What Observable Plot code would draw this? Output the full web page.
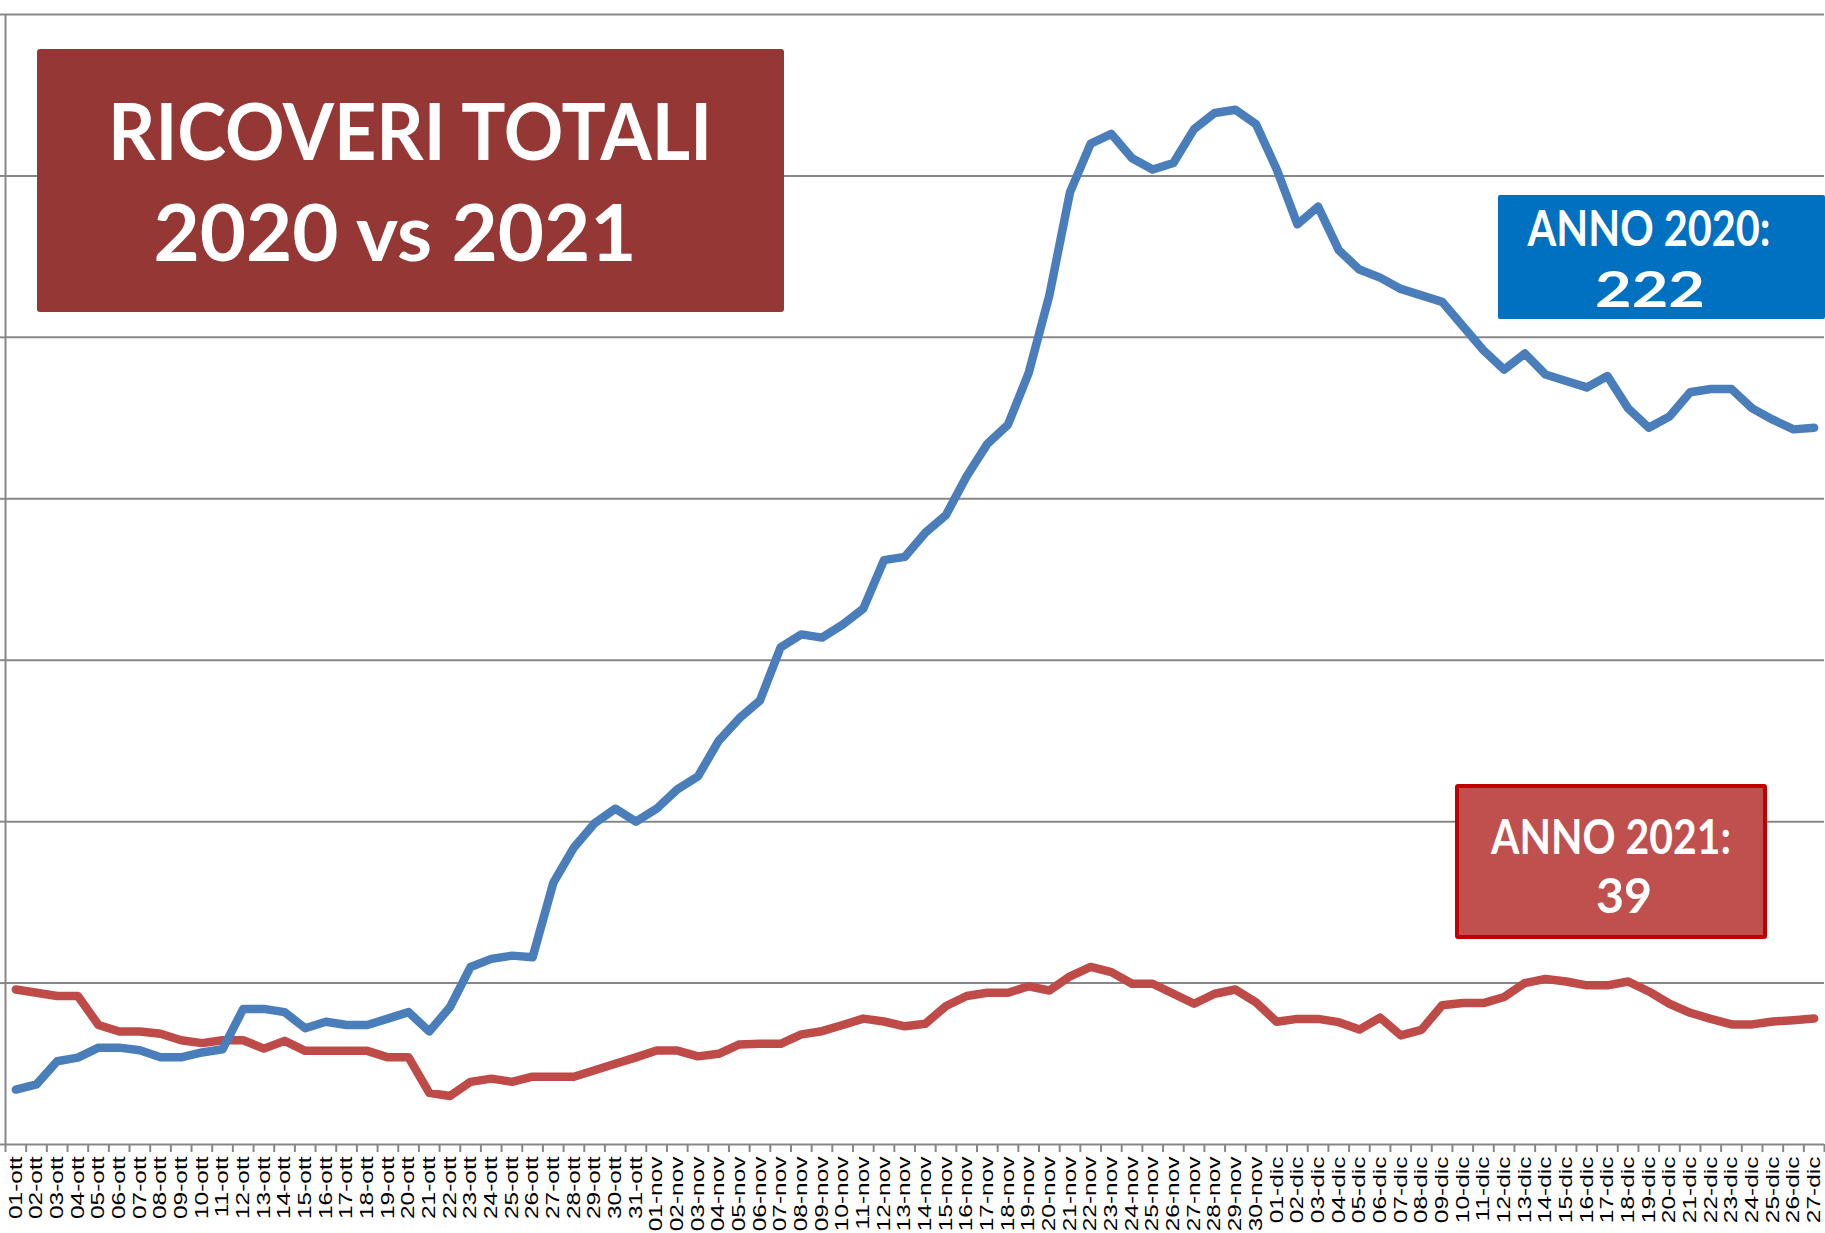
<!DOCTYPE html>
<html>
<head>
<meta charset="utf-8">
<script src="https://cdn.jsdelivr.net/npm/d3@7"></script>
<script src="https://cdn.jsdelivr.net/npm/@observablehq/plot@0.6"></script>
<style>
  html, body { margin: 0; padding: 0; background: #ffffff; }
  #chart { width: 1825px; height: 1233px; overflow: hidden; }
</style>
</head>
<body>
<div id="chart"></div>
<script>
// ---- data ----
const dates = [
  "01-ott","02-ott","03-ott","04-ott","05-ott","06-ott","07-ott","08-ott","09-ott","10-ott",
  "11-ott","12-ott","13-ott","14-ott","15-ott","16-ott","17-ott","18-ott","19-ott","20-ott",
  "21-ott","22-ott","23-ott","24-ott","25-ott","26-ott","27-ott","28-ott","29-ott","30-ott","31-ott",
  "01-nov","02-nov","03-nov","04-nov","05-nov","06-nov","07-nov","08-nov","09-nov","10-nov",
  "11-nov","12-nov","13-nov","14-nov","15-nov","16-nov","17-nov","18-nov","19-nov","20-nov",
  "21-nov","22-nov","23-nov","24-nov","25-nov","26-nov","27-nov","28-nov","29-nov","30-nov",
  "01-dic","02-dic","03-dic","04-dic","05-dic","06-dic","07-dic","08-dic","09-dic","10-dic",
  "11-dic","12-dic","13-dic","14-dic","15-dic","16-dic","17-dic","18-dic","19-dic","20-dic",
  "21-dic","22-dic","23-dic","24-dic","25-dic","26-dic","27-dic"
];
const ricoveri2020 = [
  17, 18.6, 25.8, 26.9, 30, 30, 29.2, 27, 27, 28.5,
  29.5, 42, 42, 41, 36, 38, 37, 37, 39, 41,
  35, 42.5, 55, 57.5, 58.5, 58, 81, 92, 99.5, 104,
  100, 104, 110, 114, 125, 132, 137.5, 154, 158, 157,
  161, 166, 181, 182, 189.5, 195, 207, 217, 223, 239,
  263, 295, 310, 313, 305.5, 302, 304, 314.5, 319.5, 320.5,
  316, 302, 285, 290.5, 277, 271, 268.5, 265, 263, 261,
  253.5, 246, 240, 245, 238.5, 236.5, 234.5, 238, 228, 222,
  225.5, 233, 234, 234, 228, 224.5, 221.5, 222
];
const ricoveri2021 = [
  48, 47, 46, 46, 37, 35, 35, 34.3, 32.3, 31.4,
  32.3, 32.3, 29.7, 32.1, 29, 29, 29, 29, 27, 27,
  16, 15, 19.4, 20.4, 19.4, 21, 21, 21, 23, 25,
  27, 29.1, 29.1, 27.3, 28.1, 31, 31.2, 31.2, 34.1, 35.1,
  37, 39, 38.1, 36.6, 37.4, 42.9, 46, 47, 47, 49,
  47.7, 52.1, 55, 53.4, 49.8, 49.8, 46.7, 43.6, 46.7, 48,
  44, 38, 38.9, 38.9, 37.9, 35.6, 39.3, 33.8, 35.5, 43.1,
  43.8, 43.8, 45.7, 50, 51.3, 50.5, 49.3, 49.3, 50.5, 47.4,
  43.6, 40.8, 38.9, 37.2, 37.2, 38.1, 38.5, 39
];
const yTicks = [0, 50, 100, 150, 200, 250, 300, 350];
const titleLines = ["RICOVERI TOTALI", "2020 vs 2021"];
const label2020 = ["ANNO 2020:", "222"];
const label2021 = ["ANNO 2021:", "39"];

// ---- build tables ----
const rows2020 = dates.map((d, i) => ({i, d, v: ricoveri2020[i]}));
const rows2021 = dates.map((d, i) => ({i, d, v: ricoveri2021[i]}));
const boundaries = d3.range(dates.length + 1).map(k => k - 0.5);
const centers = d3.range(dates.length);

const W = 1825, H = 1233;
const grey = "#878787";

const svg = Plot.plot({
  width: W,
  height: H,
  marginLeft: 5,
  marginRight: 1,
  marginTop: 14,
  marginBottom: 89,
  x: {type: "linear", domain: [-0.5, dates.length - 0.5], axis: null, label: null},
  y: {domain: [0, 350], axis: null, label: null},
  style: {background: "#ffffff", fontFamily: "'Liberation Sans', Arial, sans-serif"},
  marks: [
    Plot.ruleY(yTicks, {stroke: grey, strokeWidth: 2}),
    Plot.axisY({ticks: yTicks, tickSize: 5, tickFormat: () => "", label: null,
      stroke: grey, strokeWidth: 2, anchor: "left"}),
    Plot.ruleX([-0.5], {stroke: grey, strokeWidth: 2}),
    Plot.axisX({ticks: boundaries, tickSize: 8, tickFormat: () => "", label: null,
      stroke: grey, strokeWidth: 2, anchor: "bottom"}),
    Plot.axisX({ticks: centers, tickSize: 0, tickPadding: 12, tickRotate: -90, label: null,
      tickFormat: k => dates[k], fontSize: 18, fill: "#000000", anchor: "bottom"}),
    Plot.line(rows2021, {x: "i", y: "v", stroke: "#be4b48", strokeWidth: 8.5,
      strokeLinejoin: "round", strokeLinecap: "round"}),
    Plot.line(rows2020, {x: "i", y: "v", stroke: "#4a7ebb", strokeWidth: 8.5,
      strokeLinejoin: "round", strokeLinecap: "round"})
  ]
});

// stretch the rotated date labels along their length, like the reference
d3.select(svg).selectAll("text")
  .filter(function () { return (this.getAttribute("transform") || "").includes("rotate(-90)"); })
  .attr("transform", function () { return this.getAttribute("transform") + " scale(1.36,1)"; });

// ---- annotation boxes ----
const s = d3.select(svg);
const fontBox = "Lato, 'Open Sans', sans-serif";

function box(g, o) {
  g.append("rect")
    .attr("x", o.x).attr("y", o.y).attr("width", o.w).attr("height", o.h)
    .attr("rx", o.rx || 0)
    .attr("fill", o.fill)
    .attr("stroke", o.stroke || "none")
    .attr("stroke-width", o.strokeWidth || 0);
  o.lines.forEach((t, k) => {
    g.append("text")
      .attr("x", o.cx[k]).attr("y", o.base[k])
      .attr("text-anchor", "middle")
      .attr("fill", "#ffffff")
      .attr("font-family", fontBox)
      .attr("font-weight", 700)
      .attr("font-size", o.size)
      .attr("textLength", o.len[k])
      .attr("lengthAdjust", "spacingAndGlyphs")
      .text(t);
  });
}

const ann = s.append("g").attr("aria-label", "annotations");
box(ann.append("g"), {
  x: 37, y: 49, w: 747, h: 263, rx: 3, fill: "#953735",
  lines: titleLines, cx: [410, 395], base: [159.5, 261], size: 79, len: [604, 483]
});
box(ann.append("g"), {
  x: 1498, y: 195, w: 327, h: 124, rx: 2, fill: "#0070c0",
  lines: label2020, cx: [1649, 1650], base: [245.6, 307], size: 50, len: [243, 110]
});
box(ann.append("g"), {
  x: 1457, y: 786, w: 308, h: 151, rx: 1, fill: "#c0504d", stroke: "#c00000", strokeWidth: 4,
  lines: label2021, cx: [1611, 1624], base: [854, 912.5], size: 48, len: [240, 56]
});

document.getElementById("chart").appendChild(svg);
</script>
</body>
</html>
